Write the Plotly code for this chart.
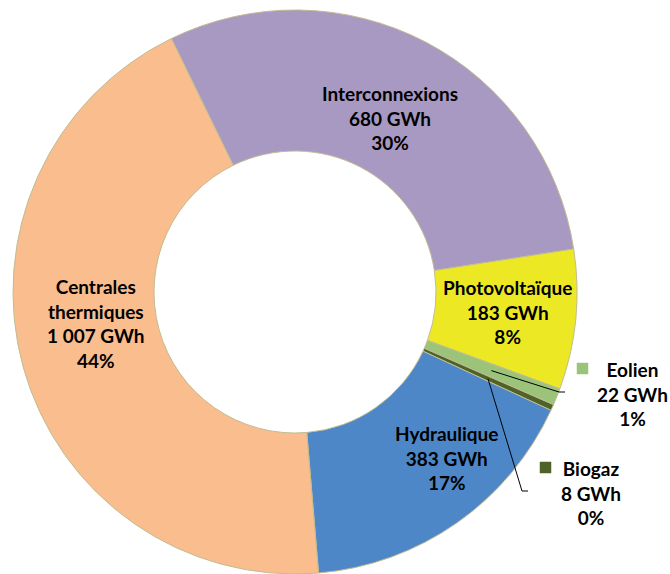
import math
import plotly.graph_objects as go

# ---------------- data ----------------
categories = ["Interconnexions", "Photovoltaïque", "Eolien", "Biogaz", "Hydraulique", "Centrales thermiques"]
label_names = ["Interconnexions", "Photovoltaïque", "Eolien", "Biogaz", "Hydraulique", "Centrales<br>thermiques"]
values_gwh = [680, 183, 22, 8, 383, 1007]
colors = ["#A899C3", "#EDE824", "#9BC47A", "#4F6228", "#4E87C8", "#F9BD8E"]

# ---------------- geometry / layout ----------------
W, H = 670, 574
CX, CY, R = 295, 292, 282
HOLE = 0.5
ROT = -26
FONT = "Lato"
FS = 19


def px(x):
    return x / W


def py(y):
    return 1 - y / H


total = sum(values_gwh)


def fmt_gwh(v):
    return f"{v:,}".replace(",", " ") + " GWh"


def fmt_pct(v):
    return f"{round(v / total * 100)}%"


def slice_point(i, r):
    before = sum(values_gwh[:i])
    ang = math.radians(ROT + (before + values_gwh[i] / 2) / total * 360)
    return CX + r * math.sin(ang), CY - r * math.cos(ang)


fig = go.Figure(
    go.Pie(
        labels=categories,
        values=values_gwh,
        hole=HOLE,
        sort=False,
        direction="clockwise",
        rotation=ROT,
        textinfo="none",
        hoverinfo="label+value+percent",
        marker=dict(colors=colors, line=dict(color="#C2BC92", width=1)),
        domain=dict(x=[px(CX - R), px(CX + R)], y=[py(CY + R), py(CY - R)]),
        showlegend=False,
    )
)

# label block centres (pixels)
label_pos = {
    "Interconnexions": (390, 118),
    "Photovoltaïque": (507, 312),
    "Eolien": (632, 394),
    "Biogaz": (591, 493),
    "Hydraulique": (446, 458),
    "Centrales thermiques": (96, 323),
}

annotations = []
for i, cat in enumerate(categories):
    x, y = label_pos[cat]
    txt = f"<b>{label_names[i]}<br>{fmt_gwh(values_gwh[i])}<br>{fmt_pct(values_gwh[i])}</b>"
    annotations.append(dict(
        x=px(x), y=py(y), xref="paper", yref="paper",
        xanchor="center", yanchor="middle", align="center",
        text=txt, showarrow=False,
        font=dict(family=FONT, size=FS, color="#000000"),
    ))

shapes = []
r_mid = R * (1 + HOLE) / 2
# leader lines for the small slices
leader_ends = {
    "Eolien": [(559, 392), (565, 392)],
    "Biogaz": [(522, 491), (528, 491)],
}
for cat, pts in leader_ends.items():
    i = categories.index(cat)
    ax, ay = slice_point(i, r_mid)
    path = f"M {px(ax)} {py(ay)}" + "".join(f" L {px(a)} {py(b)}" for a, b in pts)
    shapes.append(dict(type="path", xref="paper", yref="paper", path=path,
                       line=dict(color="#000000", width=1)))

# small legend keys beside the outside labels
key_boxes = {
    "Eolien": (577, 363, 588, 374),
    "Biogaz": (540, 462, 551, 473),
}
for cat, (x0, y0, x1, y1) in key_boxes.items():
    c = colors[categories.index(cat)]
    shapes.append(dict(type="rect", xref="paper", yref="paper",
                       x0=px(x0), x1=px(x1), y0=py(y1), y1=py(y0),
                       fillcolor=c, line=dict(color=c, width=0.5)))

fig.update_layout(
    width=W, height=H,
    margin=dict(l=0, r=0, t=0, b=0),
    paper_bgcolor="white", plot_bgcolor="white",
    annotations=annotations, shapes=shapes,
)

fig.write_html(
    "out.html",
    config={"displayModeBar": False},
    post_script="document.body.style.margin='0';document.body.style.overflow='hidden';",
)
